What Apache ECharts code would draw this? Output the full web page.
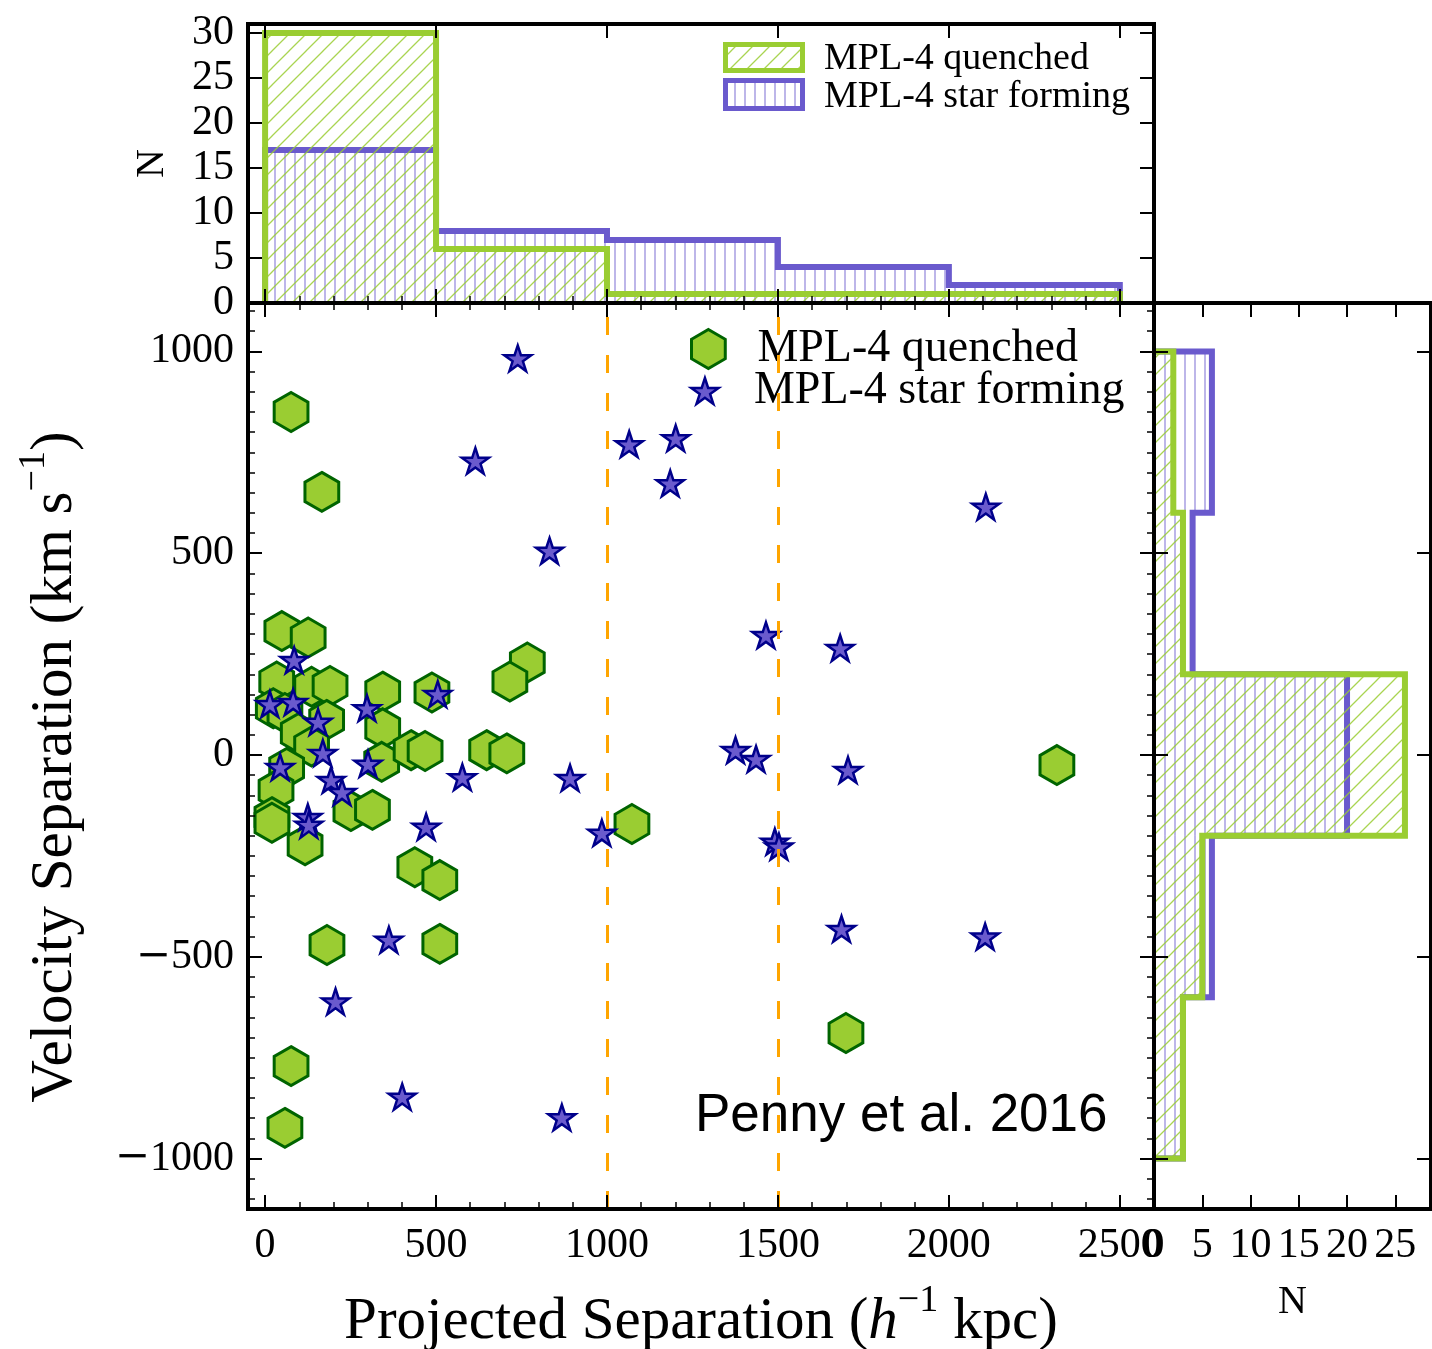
<!DOCTYPE html>
<html>
<head>
<meta charset="utf-8">
<script src="https://cdn.jsdelivr.net/npm/echarts@6/dist/echarts.min.js"></script>
<style>
  html, body { margin: 0; padding: 0; background: #ffffff; }
  #chart { width: 1432px; height: 1349px; }
</style>
</head>
<body>
<div id="chart"></div>
<script>
// Pair separations: projected separation (h^-1 kpc) and velocity separation (km/s)
const quenchedSep = [76, 166, 49, 126, 34, 136, 190, 344, 488, 767, 716, 24, 58, 180, 97, 136, 344, 341, 427, 468,
                     648, 707, 63, 32, 20, 20, 117, 251, 314, 438, 511, 181, 511, 1073, 2316, 1699, 76, 58];
const quenchedVel = [850, 652, 307, 291, 182, 169, 171, 157, 155, 229, 182, 116, 104, 87, 54, 21, 66, -17, 12, 10,
                     12, 4, -32, -87, -154, -168, -224, -139, -136, -278, -310, -471, -468, -171, -25, -689, -771, -924];

const starFormingSep = [739, 615, 1065, 1201, 1185, 832, 2108, 1465, 1682, 85, 14, 82, 155, 298, 505, 169, 44, 193, 301,
                        225, 125, 128, 577, 892, 471, 985, 1376, 1436, 1705, 1491, 1503, 362, 1686, 2106, 206, 401, 868];
const starFormingVel = [983, 729, 770, 785, 673, 506, 615, 297, 265, 235, 126, 131, 82, 116, 151, 5, -30, -62, -22,
                        -92, -154, -173, -55, -57, -178, -193, 12, -10, -37, -215, -227, -458, -431, -450, -611, -847, -898];

// Histogram of projected separation (top panel)
const sepBinEdges = [0, 500, 1000, 1500, 2000, 2500];
const sepCountsQuenched = [30, 6, 1, 1, 1];
const sepCountsStarForming = [17, 8, 7, 4, 2];

// Histogram of velocity separation (side panel)
const velBinEdges = [-1000, -600, -200, 200, 600, 1000];
const velCountsQuenched = [3, 5, 26, 3, 2];
const velCountsStarForming = [3, 6, 20, 4, 6];

// Tick positions and reference lines
const sepTicks = [0, 500, 1000, 1500, 2000, 2500];
const velTicks = [-1000, -500, 0, 500, 1000];
const topCountTicks = [0, 5, 10, 15, 20, 25, 30];
const sideCountTicks = [0, 5, 10, 15, 20, 25];
const dividerSeps = [1000, 1500];

const sepMinorTicks = [];
for (let v = 100; v < 2600; v += 100) if (v % 500 !== 0) sepMinorTicks.push(v);
const velMinorTicks = [];
for (let v = -1100; v <= 1100; v += 50) if (v % 500 !== 0) velMinorTicks.push(v);

const SEP_RANGE = [-50, 2600];
const VEL_RANGE = [-1125, 1120];
const TOP_N_RANGE = [0, 31];
const SIDE_N_RANGE = [0, 28.7];

const GREEN = '#9acd32';
const GREEN_EDGE = '#006400';
const BLUE = '#6a5acd';
const BLUE_EDGE = '#00008b';
const serif = '"Liberation Serif", "Times New Roman", serif';

// Hatch patterns drawn on small canvases
function diagonalHatch(color) {
  const c = document.createElement('canvas');
  c.width = 17; c.height = 17;
  const g = c.getContext('2d');
  g.strokeStyle = color; g.lineWidth = 1.3;
  g.beginPath();
  g.moveTo(-1, 18); g.lineTo(18, -1);
  g.moveTo(-1, 1); g.lineTo(1, -1);
  g.moveTo(16, 18); g.lineTo(18, 16);
  g.stroke();
  return { image: c, repeat: 'repeat' };
}
function verticalHatch(color) {
  const c = document.createElement('canvas');
  c.width = 10; c.height = 10;
  const g = c.getContext('2d');
  g.fillStyle = color;
  g.fillRect(4.2, 0, 1.6, 10);
  return { image: c, repeat: 'repeat' };
}
const greenHatch = diagonalHatch('rgba(154,205,50,0.85)');
const blueHatch = verticalHatch('rgba(106,90,205,0.55)');

const HEX = 'path://M0,-100L86.6,-50L86.6,50L0,100L-86.6,50L-86.6,-50Z';
const STAR = 'path://M0,-100L22.45,-30.9L95.11,-30.9L36.33,11.8L58.78,80.9L0,38.2L-58.78,80.9L-36.33,11.8L-95.11,-30.9L-22.45,-30.9Z';

// Negative labels use a wide minus sign
const fmt = v => (v < 0 ? '{m|\u2212}' + Math.abs(v) : String(v));
const labelStyle = {
  fontFamily: serif, fontSize: 42, color: '#000',
  rich: { m: { fontFamily: '"DejaVu Serif", serif', fontSize: 42, color: '#000' } }
};

const frameLine = { show: true, onZero: false, lineStyle: { color: '#000', width: 4, cap: 'square' } };
const noLine = { show: false, onZero: false };

function axis(grid, position, range, opts) {
  const a = {
    type: 'value', gridIndex: grid, position: position,
    min: range[0], max: range[1],
    axisLine: opts.frame ? frameLine : noLine,
    axisTick: {
      show: true, inside: true, customValues: opts.ticks,
      length: opts.minor ? 7 : 14,
      lineStyle: { color: '#000', width: opts.minor ? 1.5 : 2 }
    },
    axisLabel: opts.labels
      ? Object.assign({ show: true, customValues: opts.labels, formatter: fmt, margin: 16 }, labelStyle)
      : { show: false },
    splitLine: { show: false },
    minorTick: { show: false },
    z: 10,
    silent: true,
    nameMoveOverlap: false
  };
  if (opts.name) Object.assign(a, opts.name);
  return a;
}

const nameRich = {
  a: { fontFamily: serif, fontSize: 59, color: '#000', lineHeight: 80 },
  e: { fontFamily: serif, fontSize: 59, color: '#000', lineHeight: 80, padding: [0, 22, 0, 0] },
  i: { fontFamily: serif, fontSize: 59, fontStyle: 'italic', color: '#000', lineHeight: 80 },
  s: { fontFamily: serif, fontSize: 38, color: '#000', lineHeight: 30, verticalAlign: 'top' }
};

const xAxes = [
  axis(0, 'bottom', SEP_RANGE, { frame: true, ticks: sepTicks, labels: sepTicks, name: {
    name: '{a|Projected Separation (}{i|h}{s|\u22121}{a| kpc)}',
    nameLocation: 'middle', nameGap: 73,
    nameTextStyle: { rich: nameRich, fontFamily: serif, fontSize: 59, color: '#000' } } }),
  axis(0, 'top', SEP_RANGE, { frame: true, ticks: sepTicks }),
  axis(0, 'bottom', SEP_RANGE, { ticks: sepMinorTicks, minor: true }),
  axis(0, 'top', SEP_RANGE, { ticks: sepMinorTicks, minor: true }),
  axis(1, 'bottom', SEP_RANGE, { frame: true, ticks: sepTicks }),
  axis(1, 'bottom', SEP_RANGE, { ticks: sepMinorTicks, minor: true }),
  axis(1, 'top', SEP_RANGE, { frame: true, ticks: sepTicks }),
  axis(2, 'bottom', SIDE_N_RANGE, { frame: true, ticks: sideCountTicks, labels: sideCountTicks, name: {
    name: 'N', nameLocation: 'middle', nameGap: 73,
    nameTextStyle: { fontFamily: serif, fontSize: 40, color: '#000', lineHeight: 40 } } }),
  axis(2, 'top', SIDE_N_RANGE, { frame: true, ticks: sideCountTicks })
];

const yAxes = [
  axis(0, 'left', VEL_RANGE, { frame: true, ticks: velTicks, labels: velTicks, name: {
    name: '{a|Velocity Separation (km s}{s|\u22121}{e|)}',
    nameLocation: 'middle', nameRotate: 90, nameGap: 153,
    nameTextStyle: { rich: nameRich, fontFamily: serif, fontSize: 59, color: '#000' } } }),
  axis(0, 'right', VEL_RANGE, { frame: true, ticks: velTicks }),
  axis(0, 'left', VEL_RANGE, { ticks: velMinorTicks, minor: true }),
  axis(0, 'right', VEL_RANGE, { ticks: velMinorTicks, minor: true }),
  axis(1, 'left', TOP_N_RANGE, { frame: true, ticks: topCountTicks, labels: topCountTicks, name: {
    name: 'N', nameLocation: 'middle', nameRotate: 90, nameGap: 76,
    nameTextStyle: { fontFamily: serif, fontSize: 40, color: '#000', lineHeight: 40 } } }),
  axis(1, 'right', TOP_N_RANGE, { frame: true, ticks: topCountTicks }),
  axis(2, 'left', VEL_RANGE, { frame: true, ticks: velTicks }),
  axis(2, 'right', VEL_RANGE, { frame: true, ticks: velTicks })
];
yAxes[0].axisLabel.margin = 14;
yAxes[4].axisLabel.margin = 14;

// Step outlines of the histograms, built from bin edges and counts
function topOutline(edges, counts) {
  const pts = [[edges[0], 0]];
  counts.forEach((n, i) => { pts.push([edges[i], n], [edges[i + 1], n]); });
  pts.push([edges[edges.length - 1], 0]);
  return pts;
}
function sideOutline(edges, counts) {
  const pts = [[0, edges[0]]];
  counts.forEach((n, i) => { pts.push([n, edges[i]], [n, edges[i + 1]]); });
  pts.push([0, edges[edges.length - 1]]);
  return pts;
}

function topBars(edges, counts, pattern, z) {
  return {
    type: 'custom', xAxisIndex: 4, yAxisIndex: 4, z: z, silent: true,
    data: counts.map((n, i) => [edges[i], edges[i + 1], n]),
    encode: { x: [0, 1], y: 2 },
    renderItem: (params, api) => {
      const p0 = api.coord([api.value(0), api.value(2)]);
      const p1 = api.coord([api.value(1), 0]);
      return { type: 'rect', shape: { x: p0[0], y: p0[1], width: p1[0] - p0[0], height: p1[1] - p0[1] },
               style: { fill: pattern } };
    }
  };
}
function sideBars(edges, counts, pattern, z) {
  return {
    type: 'custom', xAxisIndex: 7, yAxisIndex: 6, z: z, silent: true,
    data: counts.map((n, i) => [n, edges[i], edges[i + 1]]),
    encode: { x: 0, y: [1, 2] },
    renderItem: (params, api) => {
      const p0 = api.coord([0, api.value(2)]);
      const p1 = api.coord([api.value(0), api.value(1)]);
      return { type: 'rect', shape: { x: p0[0], y: p0[1], width: p1[0] - p0[0], height: p1[1] - p0[1] },
               style: { fill: pattern } };
    }
  };
}
function outline(points, color, xi, yi, z) {
  return {
    type: 'line', xAxisIndex: xi, yAxisIndex: yi, z: z, silent: true,
    data: points, symbol: 'none', showSymbol: false, clip: false,
    lineStyle: { color: color, width: 6, join: 'miter', cap: 'butt' }
  };
}

const option = {
  animation: false,
  backgroundColor: '#ffffff',
  grid: [
    { left: 248, top: 303, width: 906, height: 906, outerBoundsMode: 'none' },
    { left: 248, top: 24, width: 906, height: 279, outerBoundsMode: 'none' },
    { left: 1154, top: 303, width: 277, height: 906, outerBoundsMode: 'none' }
  ],
  xAxis: xAxes,
  yAxis: yAxes,
  legend: [
    { data: ['MPL-4 quenched'], left: 690, top: 326, padding: 0, orient: 'vertical',
      itemWidth: 88, itemHeight: 39, selectedMode: false, symbolKeepAspect: true,
      itemStyle: { borderWidth: 3 },
      textStyle: { fontFamily: serif, fontSize: 46, color: '#000' } },
    { data: ['MPL-4 star forming'], left: 690, top: 368, padding: 0, orient: 'vertical',
      itemWidth: 88, itemHeight: 26, selectedMode: false, symbolKeepAspect: true,
      itemStyle: { borderWidth: 2.5 },
      textStyle: { fontFamily: serif, fontSize: 46, color: '#000' } }
  ],
  graphic: [
    { type: 'rect', z: 20, silent: true, shape: { x: 725.5, y: 44.5, width: 77, height: 26 },
      style: { fill: greenHatch, stroke: GREEN, lineWidth: 5 } },
    { type: 'rect', z: 20, silent: true, shape: { x: 725.5, y: 80.5, width: 77, height: 28 },
      style: { fill: blueHatch, stroke: BLUE, lineWidth: 5 } },
    { type: 'text', z: 20, silent: true, x: 824, y: 59,
      style: { text: 'MPL-4 quenched', font: '38px ' + serif, fill: '#000', verticalAlign: 'middle' } },
    { type: 'text', z: 20, silent: true, x: 824, y: 97,
      style: { text: 'MPL-4 star forming', font: '38px ' + serif, fill: '#000', verticalAlign: 'middle' } },
    { type: 'text', z: 20, silent: true, x: 695, y: 1116,
      style: { text: 'Penny et al. 2016', font: '53px "Liberation Sans", Arial, sans-serif', fill: '#000', verticalAlign: 'middle' } }
  ],
  series: [
    {
      type: 'line', xAxisIndex: 0, yAxisIndex: 0, data: [], z: 1, silent: true,
      markLine: {
        silent: true, symbol: 'none', label: { show: false },
        lineStyle: { color: '#ffa500', width: 3, type: [18, 20] },
        data: dividerSeps.map(v => ({ xAxis: v }))
      }
    },
    {
      name: 'MPL-4 quenched', type: 'scatter', xAxisIndex: 0, yAxisIndex: 0, z: 3,
      symbol: HEX, symbolSize: 39, symbolKeepAspect: true,
      itemStyle: { color: GREEN, borderColor: GREEN_EDGE, borderWidth: 3, opacity: 1 },
      emphasis: { disabled: true },
      data: quenchedSep.map((x, i) => [x, quenchedVel[i]])
    },
    {
      name: 'MPL-4 star forming', type: 'scatter', xAxisIndex: 0, yAxisIndex: 0, z: 4,
      symbol: STAR, symbolSize: 27, symbolKeepAspect: true,
      itemStyle: { color: BLUE, borderColor: BLUE_EDGE, borderWidth: 2.5, opacity: 1 },
      emphasis: { disabled: true },
      data: starFormingSep.map((x, i) => [x, starFormingVel[i]])
    },
    topBars(sepBinEdges, sepCountsStarForming, blueHatch, 2),
    outline(topOutline(sepBinEdges, sepCountsStarForming), BLUE, 4, 4, 3),
    topBars(sepBinEdges, sepCountsQuenched, greenHatch, 4),
    outline(topOutline(sepBinEdges, sepCountsQuenched), GREEN, 4, 4, 5),
    sideBars(velBinEdges, velCountsStarForming, blueHatch, 2),
    outline(sideOutline(velBinEdges, velCountsStarForming), BLUE, 7, 6, 3),
    sideBars(velBinEdges, velCountsQuenched, greenHatch, 4),
    outline(sideOutline(velBinEdges, velCountsQuenched), GREEN, 7, 6, 5)
  ]
};

const chart = echarts.init(document.getElementById('chart'), null, { renderer: 'canvas' });
chart.setOption(option);
</script>
</body>
</html>
